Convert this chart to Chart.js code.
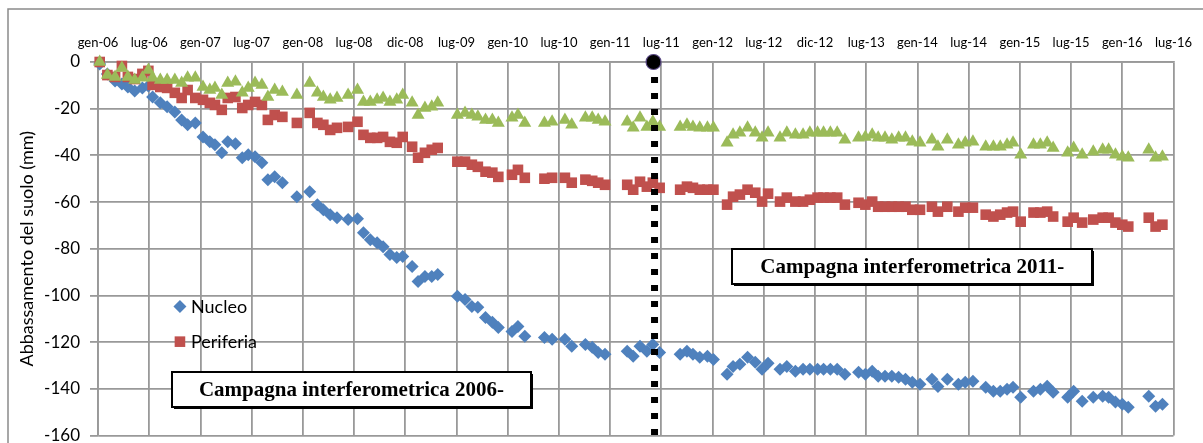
<!DOCTYPE html>
<html>
<head>
<meta charset="utf-8">
<script src="https://cdn.jsdelivr.net/npm/chart.js@4.4.1/dist/chart.umd.min.js"></script>
<style>
  html, body { margin: 0; padding: 0; background: #fff; }
  #wrap { width: 1203px; height: 443px; }
</style>
</head>
<body>
<div id="wrap"><canvas id="chart" width="1203" height="443"></canvas></div>
<script>
// acquisition dates, in months since gen-06
const months = [
  0.2, 1.1, 2.0, 2.8, 3.5, 4.3, 5.2, 5.9,
  6.4, 7.3, 8.1, 9.0, 9.8, 10.5, 11.4, 12.3, 13.1, 13.7, 14.5, 15.2, 16.1, 16.9, 17.6, 18.4, 19.2, 19.9, 20.7, 21.6, 23.3,
  24.8, 25.7, 26.4, 27.2, 28.0, 29.3, 30.4, 31.1, 31.9, 32.7, 33.4, 34.2, 35.0, 35.7, 36.8, 37.5, 38.3, 39.1, 39.8,
  42.1, 43.0, 43.8, 44.5, 45.4, 46.2, 46.9, 48.5, 49.2, 50.0, 52.3,
  53.2, 54.7, 55.5, 57.1, 57.9, 58.6, 59.4, 62.0, 62.7, 63.5, 64.3, 65.0, 65.8, 68.2, 69.0, 69.7, 70.5, 71.4, 72.1,
  73.7, 74.4, 75.2, 76.1, 77.0, 77.8, 78.5,
  79.9, 80.7, 81.7, 82.6, 83.4, 84.3, 85.0, 85.8, 86.6, 87.5, 89.1, 89.9, 90.7, 91.4, 92.2, 93.0, 93.8, 94.6, 95.4,
  96.3, 97.7, 98.4, 99.5, 100.8, 101.6, 102.5, 104.0, 104.9,
  105.7, 106.5, 107.2, 108.1, 109.6, 110.4, 111.2, 111.9, 113.6, 114.3, 115.3, 116.6, 117.7, 118.4, 119.2, 120.0,
  120.7, 123.1, 123.9, 124.7
];

const nucleo = [
  -0.9, -5.1, -8.1, -9.4, -10.7, -12.4, -11.1, -10.3,
  -15.0, -17.5, -19.2, -21.4, -24.8, -26.9, -26.1, -32.1, -34.2, -35.5, -38.9, -34.2, -35.0, -41.0, -39.7, -40.6, -43.2, -50.4, -49.2, -51.7, -57.7,
  -55.6, -61.1, -63.3, -65.4, -66.7, -67.5, -67.1, -73.1, -76.1, -77.4, -79.1, -82.5, -83.8, -83.3, -87.6, -94.0, -91.9, -91.9, -91.0,
  -100.4, -101.7, -104.7, -105.1, -109.4, -111.5, -113.7, -115.4, -113.3, -117.5, -118.0,
  -118.8, -118.8, -121.8, -121.0, -122.2, -124.4, -125.2, -123.9, -126.1, -121.8, -123.9, -121.0, -124.4, -125.2, -123.9, -125.2, -126.5, -126.1, -127.4,
  -133.8, -130.4, -129.5, -126.5, -128.6, -131.6, -129.1,
  -131.6, -130.4, -132.5, -131.6, -131.6, -131.6, -131.6, -131.6, -131.6, -133.8, -132.9, -133.8, -132.5, -134.6, -134.6, -134.6, -135.1, -135.9, -137.2,
  -138.0, -135.9, -139.0, -135.9, -138.0, -137.2, -136.8, -139.3, -141.0,
  -141.0, -140.2, -139.3, -143.6, -141.0, -140.2, -138.9, -141.5, -143.6, -141.0, -145.3, -143.6, -143.2, -143.6, -145.7, -146.6,
  -147.9, -143.2, -147.5, -146.6
];

const periferia = [
  0, -5.6, -6.4, -1.7, -6.4, -7.3, -5.1, -3.8,
  -9.8, -10.7, -11.1, -13.2, -15.4, -12.0, -15.4, -16.2, -17.5, -18.4, -20.5, -15.4, -15.0, -19.7, -18.4, -17.1, -18.4, -24.8, -22.7, -23.5, -26.1,
  -21.8, -26.1, -26.9, -29.1, -28.2, -27.8, -25.6, -31.2, -32.5, -32.5, -32.1, -34.2, -34.6, -32.1, -36.3, -41.0, -38.9, -37.6, -36.8,
  -42.7, -42.7, -44.0, -44.9, -47.0, -47.4, -49.2, -48.3, -46.2, -49.6, -50.0,
  -49.6, -49.6, -51.7, -50.4, -50.9, -51.7, -52.6, -52.6, -54.7, -51.3, -53.4, -51.7, -53.9, -54.7, -53.4, -53.9, -54.7, -54.7, -54.7,
  -61.1, -57.7, -56.8, -54.7, -56.0, -59.8, -56.4,
  -59.8, -58.1, -59.8, -59.8, -59.0, -58.1, -58.1, -58.1, -58.1, -61.1, -60.3, -61.1, -59.8, -62.0, -62.0, -62.0, -62.0, -62.0, -63.3,
  -63.3, -62.0, -64.1, -62.0, -64.1, -62.4, -62.4, -65.4, -66.2,
  -65.4, -64.5, -64.1, -68.4, -64.5, -64.5, -64.1, -66.2, -68.4, -66.7, -68.8, -67.5, -66.7, -66.7, -68.8, -69.7,
  -70.5, -66.7, -70.5, -69.7
];

// third series (green), not listed in the legend
const serie3 = [
  0, -5.6, -6.4, -2.6, -6.4, -7.7, -6.8, -3.4,
  -6.8, -7.7, -7.7, -7.7, -9.0, -6.8, -6.8, -10.7, -12.0, -11.1, -14.1, -9.0, -8.5, -13.2, -11.1, -9.0, -9.8, -15.0, -12.0, -12.8, -14.1,
  -9.0, -13.2, -15.0, -16.2, -15.4, -14.1, -12.0, -17.1, -17.1, -16.2, -15.4, -17.1, -16.2, -14.1, -17.5, -22.7, -19.7, -19.2, -17.5,
  -22.7, -21.8, -22.7, -23.5, -24.8, -24.8, -26.1, -23.9, -22.7, -26.1, -26.1,
  -25.6, -24.8, -26.9, -23.9, -23.9, -24.8, -25.6, -25.6, -28.2, -23.9, -27.8, -25.6, -27.8, -27.8, -26.9, -27.8, -28.2, -28.2, -28.2,
  -34.6, -31.2, -30.3, -28.2, -30.3, -32.5, -30.3,
  -32.5, -30.3, -31.2, -31.2, -30.3, -30.3, -30.3, -30.3, -30.3, -33.3, -32.5, -32.1, -31.2, -32.5, -32.5, -33.3, -32.5, -32.5, -34.2,
  -34.6, -33.3, -36.3, -33.3, -35.5, -34.6, -34.2, -36.3, -36.3,
  -36.3, -35.5, -34.6, -39.7, -35.5, -35.5, -34.6, -36.8, -38.9, -36.8, -39.7, -38.5, -37.6, -37.6, -39.7, -40.6,
  -41.0, -37.6, -41.0, -40.6
];

const xTickLabels = ['gen-06', 'lug-06', 'gen-07', 'lug-07', 'gen-08', 'lug-08', 'dic-08', 'lug-09', 'gen-10', 'lug-10', 'gen-11',
  'lug-11', 'gen-12', 'lug-12', 'dic-12', 'lug-13', 'gen-14', 'lug-14', 'gen-15', 'lug-15', 'gen-16', 'lug-16'];
const seriesNames = ['Nucleo', 'Periferia'];
const campaignBreak = 65.2; // start of the 2011 campaign (months)
const campaignLabels = ['Campagna interferometrica 2006-', 'Campagna interferometrica 2011-'];

const toPoints = vals => months.map((m, i) => ({ x: m, y: vals[i] }));

const COL_BLUE = '#4f81bd';
const COL_RED = '#c0504d';
const COL_GREEN = '#9bbb59';
const GRID = '#999999';
const FONT = 'Lato, "Open Sans", sans-serif';

function marker(ctx, style, color, cx, cy) {
  ctx.fillStyle = color;
  ctx.beginPath();
  if (style === 'rectRot') {
    ctx.moveTo(cx, cy - 6.5); ctx.lineTo(cx + 6.5, cy); ctx.lineTo(cx, cy + 6.5); ctx.lineTo(cx - 6.5, cy);
  } else {
    ctx.rect(cx - 5.3, cy - 5.3, 10.6, 10.6);
  }
  ctx.closePath();
  ctx.fill();
}

function textBox(ctx, text, cx, cy, w, h) {
  const l = Math.round(cx - w / 2), t = Math.round(cy - h / 2);
  ctx.fillStyle = '#000';
  ctx.fillRect(l + 2, t + 2, w, h);
  ctx.fillStyle = '#fff';
  ctx.fillRect(l, t, w, h);
  ctx.strokeStyle = '#000';
  ctx.lineWidth = 2;
  ctx.strokeRect(l, t, w, h);
  ctx.fillStyle = '#000';
  ctx.font = 'bold 21px "Liberation Serif", "Times New Roman", serif';
  ctx.textAlign = 'center';
  ctx.textBaseline = 'middle';
  ctx.fillText(text, cx, cy + 1);
}

const decorations = {
  id: 'decorations',
  beforeDraw(chart) {
    const ctx = chart.ctx;
    ctx.save();
    ctx.fillStyle = '#fff';
    ctx.fillRect(0, 0, chart.width, chart.height);
    ctx.strokeStyle = '#8a8a8a';
    ctx.lineWidth = 1.5;
    ctx.strokeRect(8, 9, chart.width + 20, chart.height + 20);
    ctx.restore();
  },
  afterDatasetsDraw(chart) {
    const { ctx, chartArea, scales: { x, y } } = chart;
    ctx.save();

    // dotted separator between the two campaigns
    const lx = x.getPixelForValue(campaignBreak);
    ctx.strokeStyle = '#000';
    ctx.lineWidth = 7;
    ctx.setLineDash([6, 10]);
    ctx.beginPath();
    ctx.moveTo(lx, chartArea.top + 15);
    ctx.lineTo(lx, chart.height + 10);
    ctx.stroke();
    ctx.setLineDash([]);
    ctx.beginPath();
    ctx.arc(lx - 1, chartArea.top, 7.5, 0, Math.PI * 2);
    ctx.fillStyle = '#000';
    ctx.fill();
    ctx.lineWidth = 1.2;
    ctx.strokeStyle = '#5b4a86';
    ctx.stroke();

    // campaign labels
    textBox(ctx, campaignLabels[0], x.getPixelForValue(29.7), y.getPixelForValue(-140.4), 359, 35);
    textBox(ctx, campaignLabels[1], x.getPixelForValue(95.4), y.getPixelForValue(-87.8), 360, 35);

    // legend (first two series only)
    const styles = ['rectRot', 'rect'];
    const colors = [COL_BLUE, COL_RED];
    const ly = [-104.7, -119.8];
    const mx = x.getPixelForValue(9.6);
    ctx.font = '18px ' + FONT;
    ctx.textAlign = 'left';
    ctx.textBaseline = 'middle';
    seriesNames.forEach((name, i) => {
      const py = y.getPixelForValue(ly[i]);
      marker(ctx, styles[i], colors[i], mx, py);
      ctx.fillStyle = '#000';
      ctx.fillText(name, mx + 11, py + 1);
    });
    ctx.restore();
  }
};

new Chart(document.getElementById('chart'), {
  type: 'scatter',
  data: {
    datasets: [
      { label: seriesNames[0], data: toPoints(nucleo), pointStyle: 'rectRot', pointRadius: 6.5,
        backgroundColor: COL_BLUE, borderColor: COL_BLUE, borderWidth: 0, order: 3, clip: false },
      { label: seriesNames[1], data: toPoints(periferia), pointStyle: 'rect', pointRadius: 7.5,
        backgroundColor: COL_RED, borderColor: COL_RED, borderWidth: 0, order: 2, clip: false },
      { label: 'serie 3', data: toPoints(serie3), pointStyle: 'triangle', pointRadius: 7.5,
        backgroundColor: COL_GREEN, borderColor: COL_GREEN, borderWidth: 0, order: 1, clip: false }
    ]
  },
  options: {
    responsive: false,
    animation: false,
    devicePixelRatio: 1,
    layout: { padding: { left: 0, right: 29, top: 0, bottom: 6 } },
    plugins: { legend: { display: false }, tooltip: { enabled: false } },
    scales: {
      x: {
        type: 'linear',
        position: 'top',
        min: 0,
        max: 126,
        afterFit: s => { s.height = 62; },
        ticks: {
          stepSize: 6,
          autoSkip: false,
          maxRotation: 0,
          padding: 11,
          color: '#000',
          font: { family: FONT, size: 13 },
          callback: v => xTickLabels[Math.round(v / 6)]
        },
        grid: { color: GRID, lineWidth: 1.8, drawTicks: false },
        border: { color: GRID, width: 1.8 }
      },
      y: {
        min: -160,
        max: 0,
        afterFit: s => { s.width = 98; s.paddingBottom = 0; s.paddingTop = 0; },
        ticks: {
          stepSize: 20,
          padding: 10,
          color: '#000',
          font: { family: FONT, size: 17 }
        },
        grid: { color: GRID, lineWidth: 1.8, tickLength: 8 },
        border: { color: GRID, width: 1.8 },
        title: {
          display: true,
          text: 'Abbassamento del suolo (mm)',
          color: '#000',
          font: { family: FONT, size: 18 },
          padding: { top: 16, bottom: 0 }
        }
      }
    }
  },
  plugins: [decorations]
});
</script>
</body>
</html>
